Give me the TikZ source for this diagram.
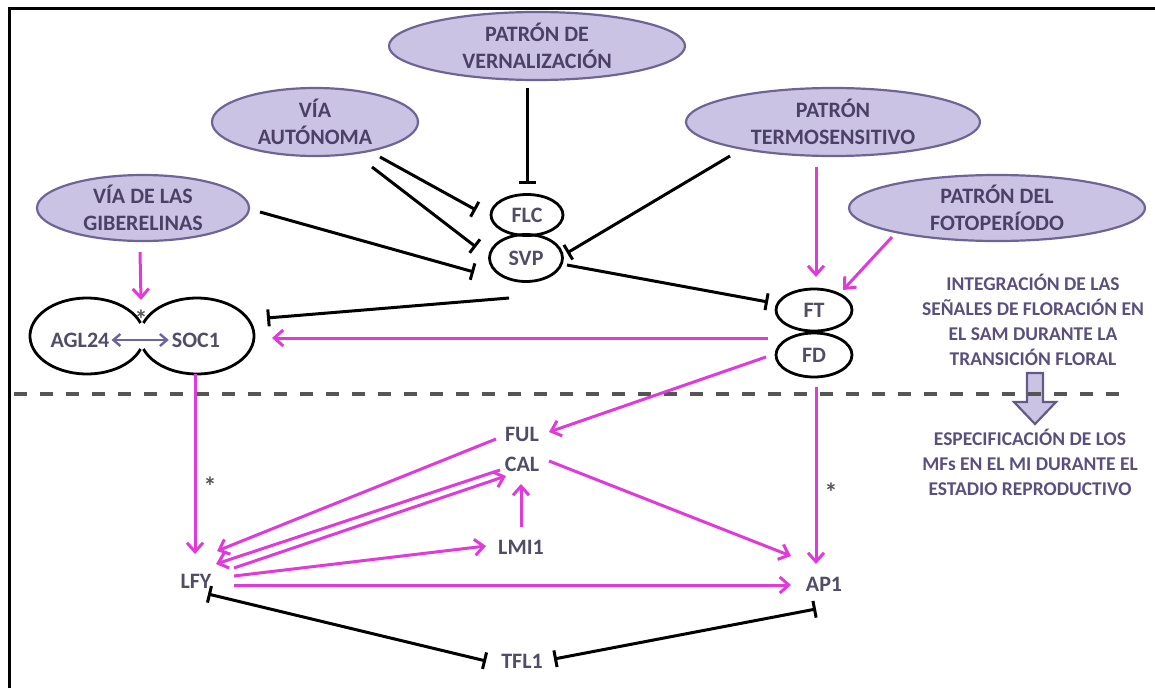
\documentclass[tikz,border=0pt]{standalone}
\usepackage{fontspec}
\setmainfont{Carlito}
\usetikzlibrary{arrows.meta,shapes.geometric,calc}
\definecolor{pinkc}{HTML}{E03ADB}
\definecolor{lav}{HTML}{CBC3E3}
\definecolor{lavd}{HTML}{6F6496}
\definecolor{txt}{HTML}{4B4068}
\definecolor{gtxt}{HTML}{524C66}
\definecolor{rtxt}{HTML}{5B4F7E}
\definecolor{dashc}{HTML}{555555}
\definecolor{dblc}{HTML}{6E62A0}
\tikzset{
  big/.style={ellipse, draw=lavd, line width=2.2pt, fill=lav, inner sep=0pt, align=center,
    font=\fontsize{22}{27}\selectfont\bfseries, text=txt},
  small/.style={ellipse, draw=black, line width=2.8pt, inner sep=0pt,
    font=\fontsize{22}{25}\selectfont\bfseries, text=gtxt},
  lab/.style={inner sep=0pt, font=\fontsize{22}{25}\selectfont\bfseries, text=gtxt},
  side/.style={inner sep=0pt, align=center, font=\fontsize{19.5}{25}\selectfont\bfseries, text=rtxt},
  startxt/.style={inner sep=0pt, font=\fontsize{26}{26}\selectfont\bfseries, text=dashc},
  inh/.style={draw=black, line width=3pt, -{Bar[width=17pt,line width=3pt]}},
  inhboth/.style={draw=black, line width=3pt, {Bar[width=17pt,line width=3pt]}-{Bar[width=17pt,line width=3pt]}},
  act/.style={draw=pinkc, line width=3pt, -{Straight Barb[length=9pt,width=16pt,line width=3pt]}},
  dbl/.style={draw=dblc, line width=2.6pt, {Straight Barb[length=7pt,width=12pt,line width=2.4pt]}-{Straight Barb[length=7pt,width=12pt,line width=2.4pt]}},
}
\begin{document}
\begin{tikzpicture}[x=1pt,y=-1pt]
\useasboundingbox (0,0) rectangle (1155,688);
% frame
\coordinate (fbl) at (9,688);
\coordinate (ftl) at (9,8);
\coordinate (ftr) at (1155,8);
\draw[line width=3pt] (fbl) -- (ftl) -- (ftr);

% big ellipses
\node[big, minimum width=296, minimum height=68] (verna) at (537,46) {PATRÓN DE\\VERNALIZACIÓN};
\node[big, minimum width=206, minimum height=68] (auto) at (315,122) {VÍA\\AUTÓNOMA};
\node[big, minimum width=212, minimum height=66] (giber) at (143,208) {VÍA DE LAS\\GIBERELINAS};
\node[big, minimum width=294, minimum height=68] (termo) at (833,122) {PATRÓN\\TERMOSENSITIVO};
\node[big, minimum width=296, minimum height=66] (foto) at (997,208) {PATRÓN DEL\\FOTOPERÍODO};

% small ellipses
\node[small, minimum width=72, minimum height=41] (FLC) at (527,215) {FLC};
\node[small, minimum width=73, minimum height=47] (SVP) at (526,258) {SVP};
\node[small, minimum width=76, minimum height=42] (FT) at (814,310) {FT};
\node[small, minimum width=76, minimum height=44] (FD) at (814,355) {FD};

% AGL24 / SOC1 pair
\node[lab] (agl) at (80,340) {AGL24};
\node[lab] (soc) at (196,340) {SOC1};
\coordinate (aglc) at (87,336);
\coordinate (socc) at (197,336);
\draw[line width=2.8pt] (aglc) ++(20:57 and 38) arc[start angle=20, end angle=340, x radius=57, y radius=38];
\draw[line width=2.8pt] (socc) ++(-160:57 and 38) arc[start angle=-160, end angle=160, x radius=57, y radius=38];
\draw[dbl] ($(agl.east)+(2,0)$) -- ($(soc.west)+(-3,0)$);

% lower labels
\node[lab] (FUL) at (522,434) {FUL};
\node[lab] (CAL) at (522,464) {CAL};
\node[lab] (LMI1) at (521,547) {LMI1};
\node[lab] (LFY) at (196,581) {LFY};
\node[lab] (AP1) at (824,584) {AP1};
\node[lab] (TFL1) at (522,661) {TFL1};

% stars
\coordinate (junc) at (141,300);
\node[startxt] (st1) at (141,319) {*};
\node[startxt] (st2) at (210,486) {*};
\node[startxt] (st3) at (831,492) {*};

% side texts
\node[side] (integ) at (1033,320) {INTEGRACIÓN DE LAS\\SEÑALES DE FLORACIÓN EN\\EL SAM DURANTE LA\\TRANSICIÓN FLORAL};
\node[side] (espec) at (1030,462) {ESPECIFICACIÓN DE LOS\\MFs EN EL MI DURANTE EL\\ESTADIO REPRODUCTIVO};

% block arrow
\coordinate (ba) at (1035,373);
\draw[draw=lavd!90!black, fill=lav, line width=2.2pt, line join=miter]
  ($(ba)+(-8,0)$) -- ($(ba)+(8,0)$) -- ($(ba)+(8,29)$) -- ($(ba)+(21,29)$) -- ($(ba)+(0,51)$)
  -- ($(ba)+(-21,29)$) -- ($(ba)+(-8,29)$) -- cycle;

% dashed separator
\coordinate (dl) at (14,394);
\coordinate (dr) at (1128,394);
\draw[dashc, line width=4pt, dash pattern=on 13pt off 13pt] (dl) -- (dr);

% black inhibitions
\draw[inh] ($(verna)+(-10,42)$) -- ($(FLC)+(0,-31)$);
\draw[inh] ($(auto)+(65,35)$) -- ($(FLC)+(-51,-5)$);
\draw[inh] ($(auto)+(57,45)$) -- ($(SVP)+(-50,-11)$);
\draw[inh] ($(giber)+(117,4)$) -- ($(SVP)+(-52,14)$);
\draw[inh] ($(termo)+(-103,34)$) -- ($(SVP)+(41,-5)$);
\draw[inh] ($(SVP)+(41,7)$) -- ($(FT)+(-46,-8)$);
\draw[inh] ($(SVP)+(-17,40)$) -- ($(soc)+(71,-22)$);
\draw[inhboth] ($(LFY)+(12,13)$) -- ($(TFL1)+(-36,0)$);
\draw[inhboth] ($(TFL1)+(32,-2)$) -- ($(AP1)+(-8,25)$);

% pink activations
\draw[act] ($(giber)+(-3,44)$) -- (junc);
\draw[act] ($(termo)+(-17,45)$) -- ($(FT)+(2,-33)$);
\draw[act] ($(foto)+(-105,29)$) -- ($(FT)+(29,-20)$);
\draw[act] ($(FD)+(-46,-17)$) -- ($(soc)+(76,-2)$);
\draw[act] ($(FD)+(-48,2)$) -- ($(FUL)+(27,-2)$);
\draw[act] ($(FD)+(2,32)$) -- ($(AP1)+(-8,-20)$);
\draw[act] ($(soc)+(-1,34)$) -- ($(LFY)+(-1,-27)$);
\draw[act] ($(FUL)+(-26,5)$) -- ($(LFY)+(21,-30)$);
\draw[act] ($(CAL)+(-22,6)$) -- ($(LFY)+(20,-17)$);
\draw[act] ($(LFY)+(38,-13)$) -- ($(CAL)+(-16,12)$);
\draw[act] ($(LFY)+(38,-5)$) -- ($(LMI1)+(-35,-1)$);
\draw[act] ($(LFY)+(38,4)$) -- ($(AP1)+(-33,1)$);
\draw[act] ($(CAL)+(27,-3)$) -- ($(AP1)+(-33,-28)$);
\draw[act] ($(LMI1)+(0,-20)$) -- ($(CAL)+(-1,20)$);
\end{tikzpicture}
\end{document}
